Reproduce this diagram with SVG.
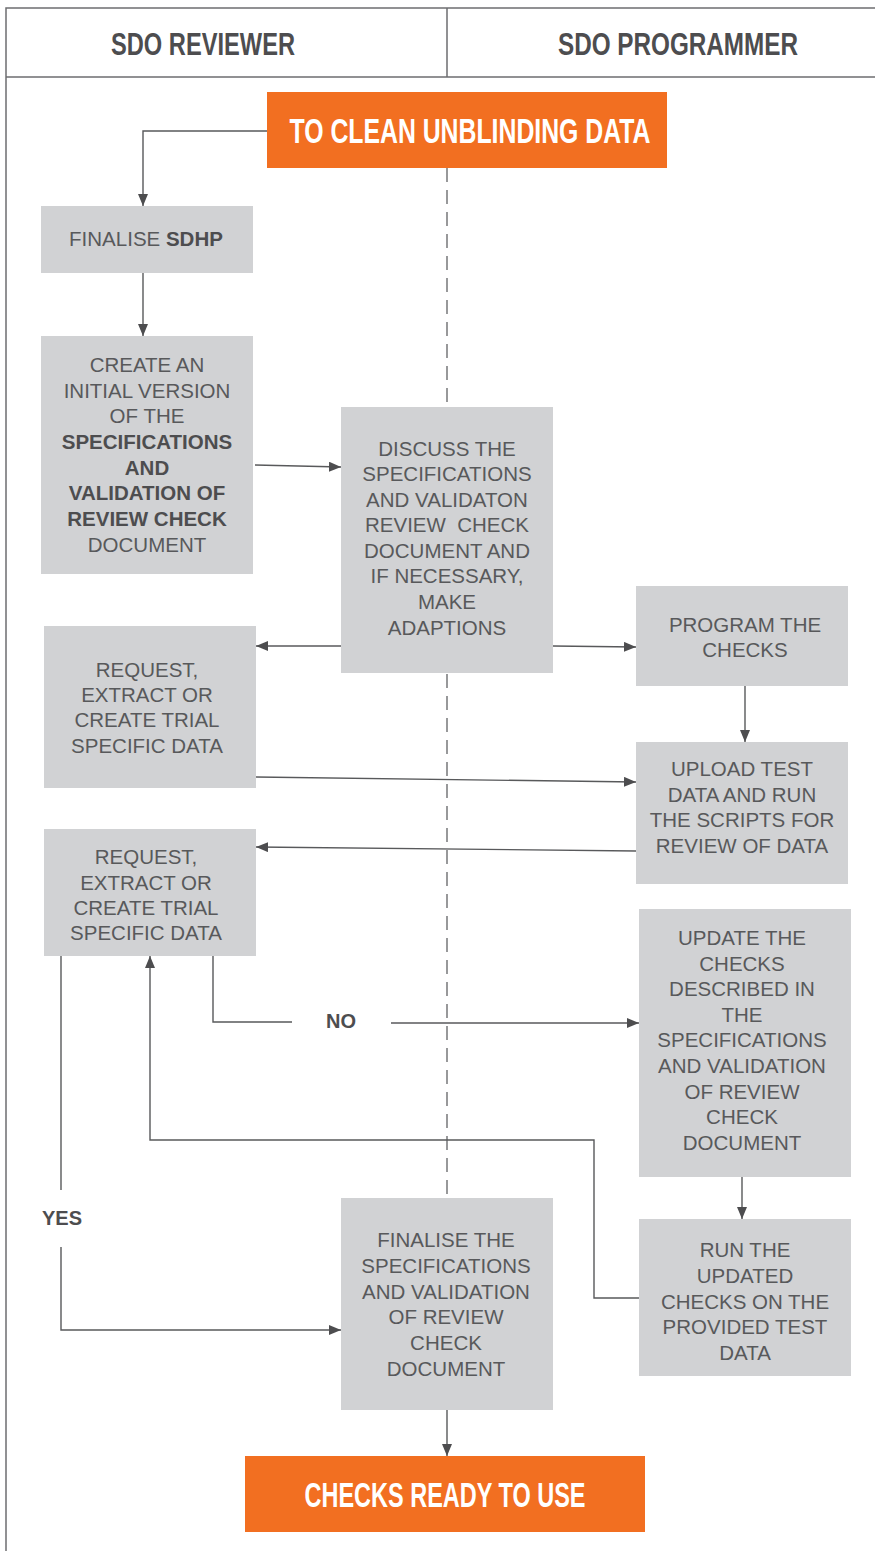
<svg xmlns="http://www.w3.org/2000/svg" width="875" height="1551" viewBox="0 0 875 1551">
<style>
.frame{stroke:#6d6e70;stroke-width:1.5;fill:none}
.box{fill:#d1d2d4}
.orange{fill:#f26f21}
.t{font-family:"Liberation Sans",Arial,sans-serif;font-size:20.5px;fill:#58595b;text-anchor:middle}
.b{font-weight:bold;fill:#4d4d4f}
.hd{font-family:"Liberation Sans",Arial,sans-serif;font-weight:bold;font-size:31px;fill:#4d4d4f;text-anchor:middle}
.ot{font-family:"Liberation Sans",Arial,sans-serif;font-weight:bold;font-size:35px;fill:#ffffff;text-anchor:middle}
.c{stroke:#58595b;stroke-width:1.4;fill:none}
.dash{stroke:#6d6e70;stroke-width:1.4;stroke-dasharray:14 8;fill:none}
.lbl{font-family:"Liberation Sans",Arial,sans-serif;font-size:20px;font-weight:bold;fill:#4d4d4f;text-anchor:middle}
</style>
<defs>
<marker id="ah" markerUnits="userSpaceOnUse" viewBox="0 0 12 10" refX="12" refY="5" markerWidth="12" markerHeight="10" orient="auto">
<path d="M0,0 L12,5 L0,10 z" fill="#4d4d4f"/>
</marker>
</defs>
<rect width="875" height="1551" fill="#ffffff"/>
<g id="frame">
<path class="frame" d="M6,1551 V8 H875 M6,77 H875 M447,8 V77"/>
<text class="hd" x="203" y="55" textLength="184" lengthAdjust="spacingAndGlyphs">SDO REVIEWER</text>
<text class="hd" x="678" y="55" textLength="240" lengthAdjust="spacingAndGlyphs">SDO PROGRAMMER</text>
</g>
<g id="lane-divider">
<path class="dash" d="M447,168 V1198"/>
</g>
<g id="connectors">
<path class="c" d="M267,131 H143 V206" marker-end="url(#ah)"/>
<path class="c" d="M143,273 V336" marker-end="url(#ah)"/>
<path class="c" d="M255,465 L341,467" marker-end="url(#ah)"/>
<path class="c" d="M341,646 H256" marker-end="url(#ah)"/>
<path class="c" d="M553,646 L636,647" marker-end="url(#ah)"/>
<path class="c" d="M745,686 V742" marker-end="url(#ah)"/>
<path class="c" d="M256,777 L636,782" marker-end="url(#ah)"/>
<path class="c" d="M636,851 L256,847" marker-end="url(#ah)"/>
<path class="c" d="M213,956 V1022 H292"/>
<path class="c" d="M391,1023 H639" marker-end="url(#ah)"/>
<path class="c" d="M742,1177 V1219" marker-end="url(#ah)"/>
<path class="c" d="M639,1298 H594 V1140 H150 V956" marker-end="url(#ah)"/>
<path class="c" d="M61,956 V1190"/>
<path class="c" d="M61,1247 V1330 H341" marker-end="url(#ah)"/>
<path class="c" d="M447,1410 V1456" marker-end="url(#ah)"/>
<text class="lbl" x="341" y="1028">NO</text>
<text class="lbl" x="62" y="1225">YES</text>
</g>
<g id="start">
<rect class="orange" x="267" y="92" width="400" height="76"/>
<text class="ot" x="470" y="143" textLength="361" lengthAdjust="spacingAndGlyphs">TO CLEAN UNBLINDING DATA</text>
</g>
<g id="finalise-sdhp">
<rect class="box" x="41" y="206" width="212" height="67"/>
<text class="t" x="146" y="246">FINALISE <tspan class="b">SDHP</tspan></text>
</g>
<g id="create-initial">
<rect class="box" x="41" y="336" width="212" height="238"/>
<text class="t" x="147" y="372">CREATE AN</text>
<text class="t" x="147" y="398">INITIAL VERSION</text>
<text class="t" x="147" y="423">OF THE</text>
<text class="t b" x="147" y="449">SPECIFICATIONS</text>
<text class="t b" x="147" y="475">AND</text>
<text class="t b" x="147" y="500">VALIDATION OF</text>
<text class="t b" x="147" y="526">REVIEW CHECK</text>
<text class="t" x="147" y="552">DOCUMENT</text>
</g>
<g id="discuss">
<rect class="box" x="341" y="407" width="212" height="266"/>
<text class="t" x="447" y="456">DISCUSS THE</text>
<text class="t" x="447" y="481">SPECIFICATIONS</text>
<text class="t" x="447" y="507">AND VALIDATON</text>
<text class="t" x="447" y="532" xml:space="preserve">REVIEW  CHECK</text>
<text class="t" x="447" y="558">DOCUMENT AND</text>
<text class="t" x="447" y="583">IF NECESSARY,</text>
<text class="t" x="447" y="609">MAKE</text>
<text class="t" x="447" y="635">ADAPTIONS</text>
</g>
<g id="request-1">
<rect class="box" x="44" y="626" width="212" height="162"/>
<text class="t" x="147" y="677">REQUEST,</text>
<text class="t" x="147" y="702">EXTRACT OR</text>
<text class="t" x="147" y="727">CREATE TRIAL</text>
<text class="t" x="147" y="753">SPECIFIC DATA</text>
</g>
<g id="program-checks">
<rect class="box" x="636" y="586" width="212" height="100"/>
<text class="t" x="745" y="632">PROGRAM THE</text>
<text class="t" x="745" y="657">CHECKS</text>
</g>
<g id="upload-test">
<rect class="box" x="636" y="742" width="212" height="142"/>
<text class="t" x="742" y="776">UPLOAD TEST</text>
<text class="t" x="742" y="802">DATA AND RUN</text>
<text class="t" x="742" y="827">THE SCRIPTS FOR</text>
<text class="t" x="742" y="853">REVIEW OF DATA</text>
</g>
<g id="request-2">
<rect class="box" x="44" y="829" width="212" height="127"/>
<text class="t" x="146" y="864">REQUEST,</text>
<text class="t" x="146" y="890">EXTRACT OR</text>
<text class="t" x="146" y="915">CREATE TRIAL</text>
<text class="t" x="146" y="940">SPECIFIC DATA</text>
</g>
<g id="update-checks">
<rect class="box" x="639" y="909" width="212" height="268"/>
<text class="t" x="742" y="945">UPDATE THE</text>
<text class="t" x="742" y="971">CHECKS</text>
<text class="t" x="742" y="996">DESCRIBED IN</text>
<text class="t" x="742" y="1022">THE</text>
<text class="t" x="742" y="1047">SPECIFICATIONS</text>
<text class="t" x="742" y="1073">AND VALIDATION</text>
<text class="t" x="742" y="1099">OF REVIEW</text>
<text class="t" x="742" y="1124">CHECK</text>
<text class="t" x="742" y="1150">DOCUMENT</text>
</g>
<g id="run-updated">
<rect class="box" x="639" y="1219" width="212" height="157"/>
<text class="t" x="745" y="1257">RUN THE</text>
<text class="t" x="745" y="1283">UPDATED</text>
<text class="t" x="745" y="1309">CHECKS ON THE</text>
<text class="t" x="745" y="1334">PROVIDED TEST</text>
<text class="t" x="745" y="1360">DATA</text>
</g>
<g id="finalise-specs">
<rect class="box" x="341" y="1198" width="212" height="212"/>
<text class="t" x="446" y="1247">FINALISE THE</text>
<text class="t" x="446" y="1273">SPECIFICATIONS</text>
<text class="t" x="446" y="1299">AND VALIDATION</text>
<text class="t" x="446" y="1324">OF REVIEW</text>
<text class="t" x="446" y="1350">CHECK</text>
<text class="t" x="446" y="1376">DOCUMENT</text>
</g>
<g id="end">
<rect class="orange" x="245" y="1456" width="400" height="76"/>
<text class="ot" x="445" y="1507" textLength="281" lengthAdjust="spacingAndGlyphs">CHECKS READY TO USE</text>
</g>
</svg>
